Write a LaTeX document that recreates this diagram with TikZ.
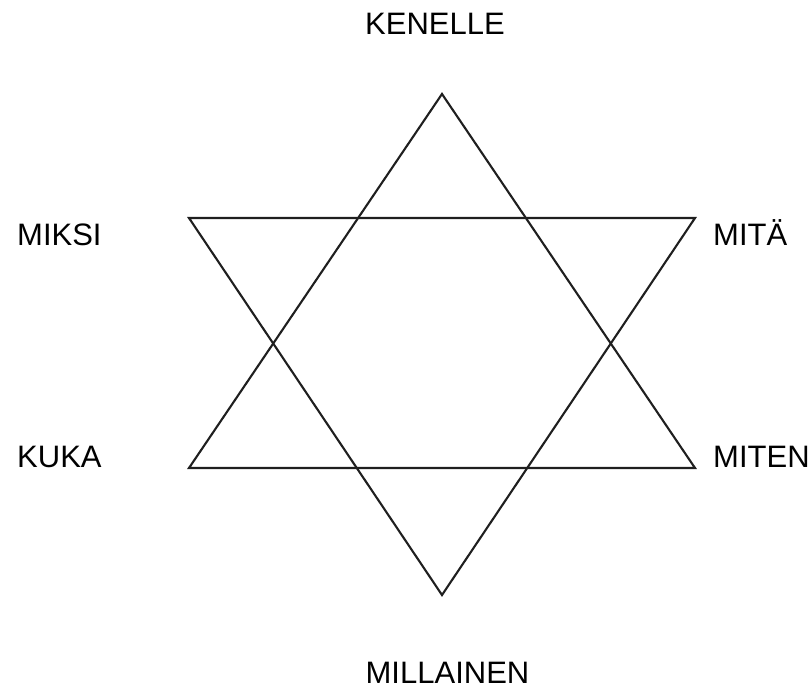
\documentclass[tikz,border=0pt]{standalone}
\usepackage{fontspec}
\setmainfont{Liberation Sans}
\begin{document}
\begin{tikzpicture}[x=1pt,y=-1pt,
  lbl/.style={inner sep=0pt,font=\fontsize{31}{31}\selectfont},
  starline/.style={draw=black!88,line width=2.1pt,line join=miter}]
\useasboundingbox (0,0) rectangle (812,690);
% vertices
\coordinate (top) at (442,94);
\coordinate (bl) at (189,468);
\coordinate (br) at (695,468);
\coordinate (bot) at (442,595);
\coordinate (tl) at (189,218);
\coordinate (tr) at (695,218);
\draw[starline] (top) -- (bl) -- (br) -- cycle;
\draw[starline] (bot) -- (tl) -- (tr) -- cycle;
% labels
\node[lbl,anchor=base] (kenelle) at (435,35) {KENELLE};
\node[lbl,anchor=base west] (miksi) at (17,246) {MIKSI};
\node[lbl,anchor=base west] (mita) at (713,246) {MITÄ};
\node[lbl,anchor=base west] (kuka) at (17,467) {KUKA};
\node[lbl,anchor=base west] (miten) at (713,467) {MITEN};
\node[lbl,anchor=base] (millainen) at (447.5,683) {MILLAINEN};
\end{tikzpicture}
\end{document}
